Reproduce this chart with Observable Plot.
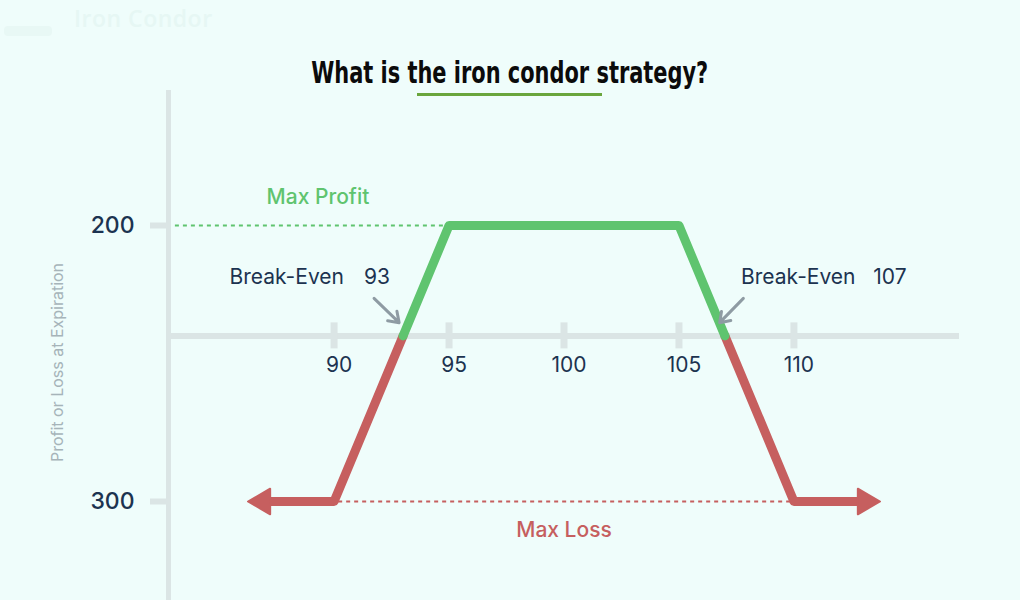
<!DOCTYPE html>
<html><head><meta charset="utf-8">
<script src="https://cdn.jsdelivr.net/npm/d3@7"></script>
<script src="https://cdn.jsdelivr.net/npm/@observablehq/plot@0.6"></script>
<style>
body{margin:0;background:#effdfb;}
#wrap{position:relative;width:1020px;height:600px;overflow:hidden;background:#effdfb;}
#chart{position:absolute;left:0;top:0;}
#watermark{position:absolute;left:74px;top:2px;font:600 23px "Open Sans",sans-serif;color:#e6f7f4;letter-spacing:0.5px;}
#logo{position:absolute;left:4px;top:26px;width:48px;height:10px;border-radius:4px;background:#e8f8f5;}
#title{position:absolute;left:0;width:1020px;top:54px;text-align:center;line-height:36px;}
#title span{display:inline-block;font:bold 31px "DejaVu Sans",sans-serif;font-stretch:condensed;color:#0b0b0b;transform:scaleX(0.75);transform-origin:center;}
#underline{position:absolute;left:417px;top:93px;width:185px;height:3px;background:#6aa63d;}
</style></head><body>
<div id="wrap">
<div id="logo"></div>
<div id="watermark">Iron Condor</div>
<div id="chart"></div>
<div id="title"><span>What is the iron condor strategy?</span></div>
<div id="underline"></div>
</div>
<script>
// ---- data ----
const strikes = [90, 95, 100, 105, 110];
const yTicks = [200, -300];
const maxProfit = 200;
const maxLoss = -300;
const breakEvens = [93, 107];
const priceLossLeft = [86.9, 90, 93];
const pnlLossLeft = [-300, -300, 0];
const priceProfit = [93, 95, 105, 107];
const pnlProfit = [0, 200, 200, 0];
const priceLossRight = [107, 110, 113.1];
const pnlLossRight = [0, -300, -300];

const green = "#5fc46f";
const red = "#c65f5f";
const navy = "#1c3350";
const axisGray = "#dbe5e5";
const arrowGray = "#8e9ba3";
const xMin = 82.8;

const rows = (xs, ys) => xs.map((x, i) => ({x, y: ys[i]}));
const leftRows = rows(priceLossLeft, pnlLossLeft);
const midRows = rows(priceProfit, pnlProfit);
const rightRows = rows(priceLossRight, pnlLossRight);
const heads = [
  {x: priceLossLeft[0], y: pnlLossLeft[0], rot: -90},
  {x: priceLossRight[priceLossRight.length - 1], y: pnlLossRight[pnlLossRight.length - 1], rot: 90}
];

const chart = Plot.plot({
  width: 1020,
  height: 600,
  marginLeft: 168,
  marginRight: 61,
  marginTop: 90,
  marginBottom: 0,
  style: {background: "transparent", fontFamily: "Inter, 'Noto Sans', sans-serif", overflow: "visible"},
  x: {domain: [xMin, 117.2], axis: null},
  y: {domain: [-300, 200], range: [501, 225], axis: null},
  marks: [
    Plot.ruleX([xMin], {stroke: axisGray, strokeWidth: 5}),
    Plot.ruleY([0], {stroke: axisGray, strokeWidth: 6}),
    Plot.ruleX(strikes, {x: d => d, y1: 0, y2: 0, insetTop: -13, insetBottom: -13, stroke: axisGray, strokeWidth: 7}),
    Plot.ruleY(yTicks, {y: d => d, x1: xMin, x2: xMin, insetLeft: -18, stroke: axisGray, strokeWidth: 6}),
    Plot.text(yTicks, {x: xMin, y: d => d, text: d => String(Math.abs(d)), textAnchor: "end", dx: -34, fontSize: 23, fontWeight: 500, fill: navy}),
    Plot.text(strikes, {x: d => d, y: 0, dy: 29, dx: 5, text: d => String(d), fontSize: 21, fill: navy}),
    Plot.ruleY([maxProfit], {x1: 83.1, x2: 95, stroke: green, strokeWidth: 2, strokeDasharray: "4,4"}),
    Plot.ruleY([maxLoss], {x1: 90.2, x2: 110, stroke: red, strokeWidth: 2, strokeDasharray: "4,4"}),
    Plot.line(leftRows, {x: "x", y: "y", stroke: red, strokeWidth: 9, strokeLinejoin: "round"}),
    Plot.line(rightRows, {x: "x", y: "y", stroke: red, strokeWidth: 9, strokeLinejoin: "round"}),
    Plot.line(midRows, {x: "x", y: "y", stroke: green, strokeWidth: 9, strokeLinejoin: "round"}),
    Plot.dot(heads, {x: "x", y: "y", symbol: "triangle", r: 9.5, fill: red, stroke: red, strokeWidth: 2, strokeLinejoin: "round", rotate: "rot"}),
    Plot.text(["Max Profit"], {x: 89.3, y: maxProfit, dy: -28, fontSize: 21, fontWeight: 500, fill: green}),
    Plot.text(["Max Loss"], {x: 100, y: maxLoss, dy: 29, fontSize: 21, fontWeight: 500, fill: red}),
    Plot.text(["Break-Even"], {x: 90.43, y: 0, dy: -59, textAnchor: "end", fontSize: 21, fill: navy}),
    Plot.text([String(breakEvens[0])], {x: 91.3, y: 0, dy: -59, textAnchor: "start", fontSize: 21, fill: navy}),
    Plot.text(["Break-Even"], {x: 107.7, y: 0, dy: -59, textAnchor: "start", fontSize: 21, fill: navy}),
    Plot.text([String(breakEvens[1])], {x: 113.45, y: 0, dy: -59, textAnchor: "start", fontSize: 21, fill: navy}),
    Plot.arrow([{x1: 91.74, y1: 68, x2: 92.83, y2: 24}, {x1: 107.8, y1: 68, x2: 106.77, y2: 24}],
      {x1: "x1", y1: "y1", x2: "x2", y2: "y2", stroke: arrowGray, strokeWidth: 3, headLength: 9, headAngle: 70}),
    Plot.text(["Profit or Loss at Expiration"], {frameAnchor: "left", textAnchor: "middle", dx: -111, dy: 17, rotate: -90, fontSize: 16, fill: "#a6b4b9"})
  ]
});
document.getElementById("chart").appendChild(chart);
</script>
</body></html>
